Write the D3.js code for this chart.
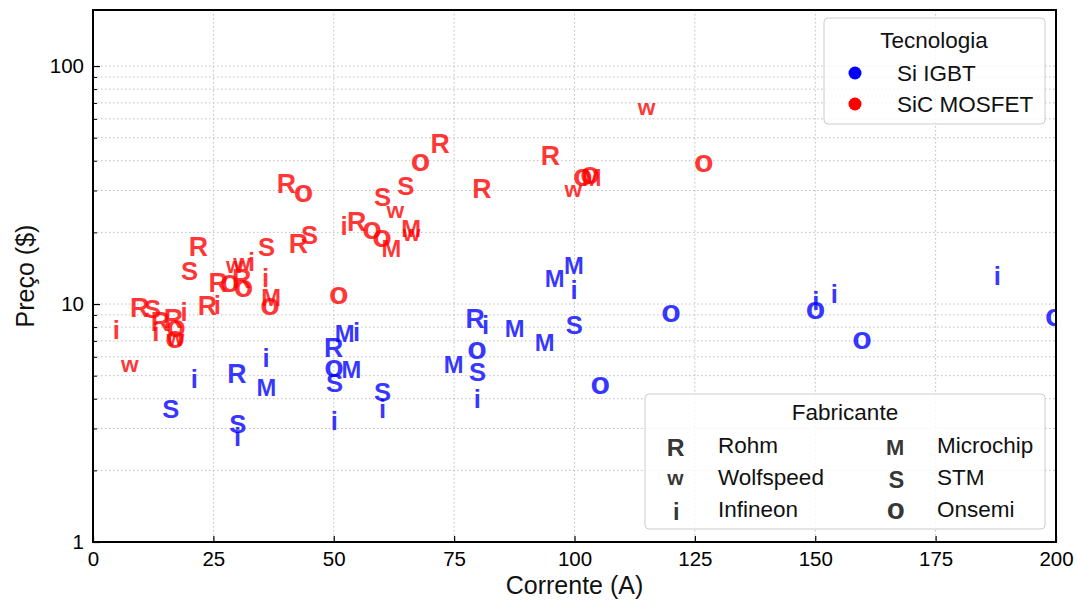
<!DOCTYPE html>
<html>
<head>
<meta charset="utf-8">
<script src="https://cdn.jsdelivr.net/npm/d3@7"></script>
<style>
  html, body { margin: 0; padding: 0; background: #fff; }
  svg text { font-family: "Liberation Sans", Arial, sans-serif; }
</style>
</head>
<body>
<svg id="chart" width="1078" height="603"></svg>
<script>
// ---------------- DATA ----------------
const manufacturers = ["Rohm", "Wolfspeed", "Infineon", "Microchip", "STM", "Onsemi"];
const glyphs        = ["R", "w", "i", "M", "S", "o"];

// SiC MOSFET (red)
const sicCurrent = [5.0, 8.0, 10.0, 12.5, 14.3, 13.2, 17.0, 19.1, 17.5, 17.3, 17.5,
  22.2, 20.2, 24.1, 26.0, 26.3, 28.7, 31.2, 31.5, 29.8, 31.3, 33.1, 36.2, 36.0, 37.4, 37.0,
  40.5, 44.0, 43.0, 45.1, 51.3, 52.3, 55.1, 58.2, 60.3, 62.4, 60.3, 65.1, 63.1, 66.5, 66.5,
  68.3, 72.4, 81.1, 95.3, 100.1, 102.0, 103.5, 104.0, 115.3, 127.1];
const sicPrice = [7.8, 5.5, 9.7, 9.6, 8.5, 7.7, 8.7, 9.3, 7.9, 7.1, 7.1,
  17.5, 13.8, 9.9, 10.0, 12.4, 12.2, 12.8, 11.7, 14.4, 14.7, 15.1, 17.5, 13.0, 10.7, 9.8,
  32.2, 29.2, 18.0, 19.5, 10.9, 21.5, 22.2, 20.5, 18.9, 17.1, 28.2, 31.6, 24.4, 20.8, 19.6,
  39.6, 47.3, 30.6, 42.3, 29.8, 34.3, 34.8, 34.0, 66.4, 39.0];
const sicMaker = ["Infineon", "Wolfspeed", "Rohm", "STM", "Rohm", "Infineon", "Rohm", "Infineon", "Onsemi", "Onsemi", "Wolfspeed",
  "Rohm", "STM", "Rohm", "Infineon", "Rohm", "Onsemi", "Rohm", "Onsemi", "Wolfspeed", "Wolfspeed", "Infineon", "STM", "Infineon", "Microchip", "Onsemi",
  "Rohm", "Onsemi", "Rohm", "STM", "Onsemi", "Infineon", "Rohm", "Onsemi", "Onsemi", "Microchip", "STM", "STM", "Wolfspeed", "Microchip", "Wolfspeed",
  "Onsemi", "Rohm", "Rohm", "Rohm", "Wolfspeed", "Onsemi", "Onsemi", "Microchip", "Wolfspeed", "Onsemi"];

// Si IGBT (blue)
const igbtCurrent = [16.3, 21.2, 30.2, 30.2, 30.2, 36.1, 36.4, 52.7, 54.9, 50.3, 50.3, 54.1, 50.3, 50.3,
  60.3, 60.3, 75.3, 79.7, 81.7, 80.0, 80.0, 80.0, 88.0, 94.2, 96.3, 100.3, 100.1, 100.1,
  105.6, 120.3, 150.3, 150.3, 154.1, 160.0, 188.0, 200.0];
const igbtPrice = [3.65, 4.9, 5.1, 3.15, 2.77, 6.0, 4.47, 7.5, 7.65, 6.6, 5.4, 5.3, 4.7, 3.26,
  4.28, 3.65, 5.6, 8.7, 8.2, 6.4, 5.2, 4.0, 7.9, 6.9, 12.8, 14.6, 11.5, 8.2,
  4.57, 9.2, 10.4, 9.4, 11.1, 7.07, 13.2, 8.8];
const igbtMaker = ["STM", "Infineon", "Rohm", "STM", "Infineon", "Infineon", "Microchip", "Microchip", "Infineon", "Rohm", "Onsemi", "Microchip", "STM", "Infineon",
  "STM", "Infineon", "Microchip", "Rohm", "Infineon", "Onsemi", "STM", "Infineon", "Microchip", "Microchip", "Microchip", "Microchip", "Infineon", "STM",
  "Onsemi", "Onsemi", "Infineon", "Onsemi", "Infineon", "Onsemi", "Infineon", "Onsemi"];

const technologies = ["Si IGBT", "SiC MOSFET"];
const techColors   = ["#0000ff", "#ff0000"];

const xTicks = [0, 25, 50, 75, 100, 125, 150, 175, 200];
const yTicks = [1, 10, 100];
const xLabel = "Corrente (A)";
const yLabel = "Preço ($)";

// ---------------- LAYOUT ----------------
const plot = { left: 93, right: 1056, top: 10, bottom: 542 };
const svg = d3.select("#chart");
const TICK_FS = 20.5, TITLE_FS = 25, LEG_FS = 22.5;

const x = d3.scaleLinear().domain([0, 200]).range([plot.left, plot.right]);
const y = d3.scaleLog().domain([1, 172]).range([plot.bottom, plot.top]);

const minorY = [];
for (let dec = 1; dec <= 100; dec *= 10) for (let m = 1; m <= 9; m++) {
  const v = dec * m; if (v <= 172) minorY.push(v);
}

// grid
const grid = svg.append("g");
grid.selectAll("line.gx").data(xTicks.filter(d => d > 0 && d < 200)).join("line")
  .attr("x1", d => x(d)).attr("x2", d => x(d)).attr("y1", plot.top).attr("y2", plot.bottom)
  .attr("stroke", "#bdbdbd").attr("stroke-width", 1).attr("stroke-dasharray", "1.5,2.5");
grid.selectAll("line.gy").data(minorY.filter(d => d > 1)).join("line")
  .attr("y1", d => y(d)).attr("y2", d => y(d)).attr("x1", plot.left).attr("x2", plot.right)
  .attr("stroke", "#bdbdbd").attr("stroke-width", 1).attr("stroke-dasharray", "1.5,2.5");

// axes (ticks inward)
const xAxis = d3.axisBottom(x).tickValues(xTicks).tickSize(-6).tickPadding(9).tickFormat(d3.format("d"));
const gx = svg.append("g").attr("transform", `translate(0,${plot.bottom})`).call(xAxis);
gx.select(".domain").remove();
gx.selectAll("text").attr("font-size", TICK_FS).attr("fill", "#000").attr("font-family", "Liberation Sans, Arial, sans-serif");
gx.selectAll("line").attr("stroke", "#000").attr("stroke-width", 1.2);

const yAxis = d3.axisLeft(y).tickValues(yTicks).tickSize(-7).tickPadding(9).tickFormat(d3.format("d"));
const gy = svg.append("g").attr("transform", `translate(${plot.left},0)`).call(yAxis);
gy.select(".domain").remove();
gy.selectAll("text").attr("font-size", TICK_FS).attr("fill", "#000").attr("font-family", "Liberation Sans, Arial, sans-serif");
gy.selectAll("line").attr("stroke", "#000").attr("stroke-width", 1.2);

const yMinorAxis = d3.axisLeft(y).tickValues(minorY.filter(d => !yTicks.includes(d))).tickSize(-4).tickFormat("");
const gym = svg.append("g").attr("transform", `translate(${plot.left},0)`).call(yMinorAxis);
gym.select(".domain").remove();
gym.selectAll("line").attr("stroke", "#000").attr("stroke-width", 1);

// axis titles
svg.append("text").attr("x", (plot.left + plot.right) / 2).attr("y", 594)
  .attr("text-anchor", "middle").attr("font-size", TITLE_FS).attr("fill", "#111").text(xLabel);
svg.append("text").attr("transform", `translate(34,${(plot.top + plot.bottom) / 2}) rotate(-90)`)
  .attr("text-anchor", "middle").attr("font-size", TITLE_FS).attr("fill", "#111").text(yLabel);

// ---------------- GLYPH MARKERS ----------------
const ctx = document.createElement("canvas").getContext("2d");
const REF = 100;
ctx.font = `bold ${REF}px "DejaVu Sans"`;
const gm = {};
glyphs.forEach(g => {
  const m = ctx.measureText(g);
  const l = -m.actualBoundingBoxLeft, r = m.actualBoundingBoxRight;
  const t = -m.actualBoundingBoxAscent, b = m.actualBoundingBoxDescent;
  gm[g] = { l, r, t, b, w: r - l, h: b - t };
});
function glyphFor(maker) { return glyphs[manufacturers.indexOf(maker)]; }
function drawGlyph(sel, g, cx, cy, size, fill, opacity) {
  const m = gm[g];
  const k = size / Math.max(m.w, m.h);
  sel.append("text")
    .attr("x", cx - (m.l + m.w / 2) * k)
    .attr("y", cy - (m.t + m.h / 2) * k)
    .attr("font-family", "DejaVu Sans").attr("font-weight", "bold")
    .attr("font-size", REF * k)
    .attr("fill", fill).attr("fill-opacity", opacity)
    .text(g);
}

svg.append("defs").append("clipPath").attr("id", "clip").append("rect")
  .attr("x", plot.left).attr("y", plot.top).attr("width", plot.right - plot.left).attr("height", plot.bottom - plot.top);
const marks = svg.append("g").attr("clip-path", "url(#clip)");

const MS = 19.5;
igbtCurrent.forEach((c, i) => drawGlyph(marks, glyphFor(igbtMaker[i]), x(c), y(igbtPrice[i]), MS, techColors[0], 0.8));
sicCurrent.forEach((c, i) => drawGlyph(marks, glyphFor(sicMaker[i]), x(c), y(sicPrice[i]), MS, techColors[1], 0.8));

// frame
svg.append("rect").attr("x", plot.left).attr("y", plot.top)
  .attr("width", plot.right - plot.left).attr("height", plot.bottom - plot.top)
  .attr("fill", "none").attr("stroke", "#000").attr("stroke-width", 2);

// ---------------- LEGENDS ----------------
const lg1 = svg.append("g");
lg1.append("rect").attr("x", 824).attr("y", 18).attr("width", 221).attr("height", 106).attr("rx", 4)
  .attr("fill", "#fff").attr("fill-opacity", 0.8).attr("stroke", "#cccccc");
lg1.append("text").attr("x", 934).attr("y", 48).attr("text-anchor", "middle").attr("font-size", LEG_FS).attr("fill", "#111").text("Tecnologia");
technologies.forEach((t, i) => {
  const cy = 73 + i * 31;
  lg1.append("circle").attr("cx", 855).attr("cy", cy).attr("r", 6.5).attr("fill", techColors[i]);
  lg1.append("text").attr("x", 897).attr("y", cy).attr("dy", "0.35em").attr("font-size", LEG_FS).attr("fill", "#111").text(t);
});

const lg2 = svg.append("g");
lg2.append("rect").attr("x", 645).attr("y", 394).attr("width", 400).attr("height", 135).attr("rx", 4)
  .attr("fill", "#fff").attr("fill-opacity", 0.8).attr("stroke", "#cccccc");
lg2.append("text").attr("x", 845).attr("y", 420).attr("text-anchor", "middle").attr("font-size", LEG_FS).attr("fill", "#111").text("Fabricante");
manufacturers.forEach((m, i) => {
  const col = Math.floor(i / 3), row = i % 3;
  const cy = 445 + row * 32;
  const gx0 = col === 0 ? 677 : 897;
  const tx0 = col === 0 ? 718 : 937;
  drawGlyph(lg2, glyphs[i], gx0, cy + 2, 18, "#000", 0.8);
  lg2.append("text").attr("x", tx0).attr("y", cy).attr("dy", "0.35em").attr("font-size", LEG_FS).attr("fill", "#111").text(m);
});
</script>
</body>
</html>
